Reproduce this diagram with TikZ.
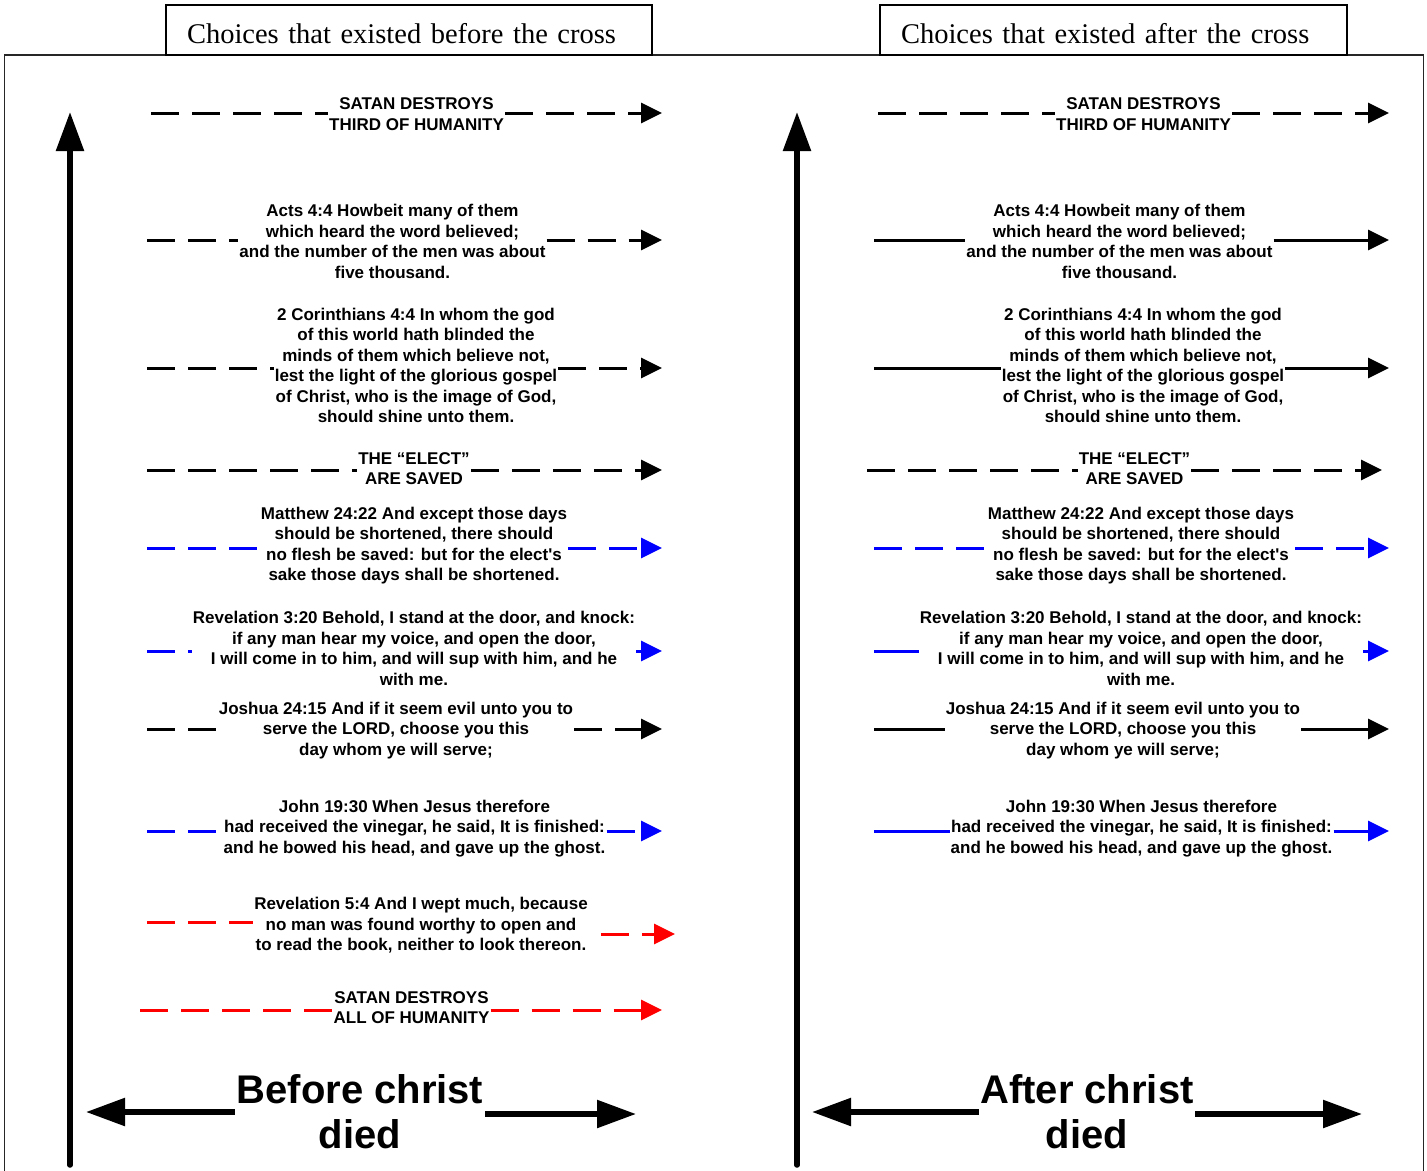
\documentclass[tikz,border=0pt]{standalone}
\usepackage{fontspec}
\setmainfont{Liberation Sans}[Ligatures=TeXOff]
\newfontfamily\titlefont{Liberation Serif}
\usetikzlibrary{arrows.meta}
\begin{document}
\begin{tikzpicture}[x=1pt,y=-1pt,
  verse/.style={font=\fontsize{17}{20.5}\selectfont\bfseries, align=center, inner xsep=1pt, inner ysep=0pt},
  titlebox/.style={draw=black, line width=1.5pt, font=\titlefont\fontsize{28.5}{34}\selectfont, align=left, inner xsep=21pt, inner ysep=0pt, minimum height=50pt, text height=26pt, text depth=0pt},
  ln/.style={line width=3pt},
  dsh/.style={line width=3pt, dash pattern=on 28pt off 13pt},
  arrowtip/.style={-{Triangle[length=21pt,width=20pt]}},
  bigarrow/.style={line width=5.5pt, -{Triangle[length=39pt,width=27pt]}},
  biglabel/.style={font=\fontsize{40}{45}\selectfont\bfseries, align=center, inner xsep=1.5pt, inner ysep=0pt},
]
\useasboundingbox (0,0) rectangle (1427,1170);
% outer frame
\draw[line width=1.8pt, black!85] (4.5,1180) -- (4.5,55) -- (1423.5,55) -- (1423.5,1180);
% titles
\node[titlebox, text width=444pt] (tl) at (409,30) {Choices that existed before the cross};
\node[titlebox, text width=425pt] (tr) at (1113.5,30) {Choices that existed after the cross};

% vertical time arrows
\coordinate (lvb) at (70,1165); \coordinate (lvt) at (70,112);
\draw[bigarrow, line cap=round] (lvb) -- (lvt);
\coordinate (rvb) at (797,1165); \coordinate (rvt) at (797,112);
\draw[bigarrow, line cap=round] (rvb) -- (rvt);

% ---------------- left panel ----------------
\coordinate (ls1) at (151,113); \coordinate (le1) at (662,113);
\node[verse] (lt1) at (416.5,114) {SATAN DESTROYS\\THIRD OF HUMANITY};
\draw[dsh] (ls1) -- (ls1 -| lt1.west);
\draw[dsh, arrowtip] (lt1.east |- le1) -- (le1);

\coordinate (ls2) at (147,240); \coordinate (le2) at (662,240);
\node[verse] (lt2) at (392.5,241.5) {Acts 4:4 Howbeit many of them\\which heard the word believed;\\and the number of the men was about\\five thousand.};
\draw[dsh] (ls2) -- (ls2 -| lt2.west);
\draw[dsh, arrowtip] (lt2.east |- le2) -- (le2);

\coordinate (ls3) at (147,368); \coordinate (le3) at (662,368);
\node[verse] (lt3) at (416,365.5) {2 Corinthians 4:4 In whom the god\\of this world hath blinded the\\minds of them which believe not,\\lest the light of the glorious gospel\\of Christ, who is the image of God,\\should shine unto them.};
\draw[dsh] (ls3) -- (ls3 -| lt3.west);
\draw[dsh, arrowtip] (lt3.east |- le3) -- (le3);

\coordinate (ls4) at (147,470); \coordinate (le4) at (662,470);
\node[verse] (lt4) at (414,468.5) {THE “ELECT”\\ARE SAVED};
\draw[dsh] (ls4) -- (ls4 -| lt4.west);
\draw[dsh, arrowtip] (lt4.east |- le4) -- (le4);

\coordinate (ls5) at (147,548); \coordinate (le5) at (662,548);
\node[verse] (lt5) at (414,545.5) {Matthew 24:22 And except those days\\should be shortened, there should\\no flesh be saved: but for the elect's\\sake those days shall be shortened.};
\draw[dsh, blue] (ls5) -- (ls5 -| lt5.west);
\draw[dsh, blue, arrowtip] (lt5.east |- le5) -- (le5);

\coordinate (ls6) at (147,651); \coordinate (le6) at (662,651);
\node[verse] (lt6) at (414,648.5) {Revelation 3:20 Behold, I stand at the door, and knock:\\if any man hear my voice, and open the door,\\I will come in to him, and will sup with him, and he\\with me.};
\draw[dsh, blue] (ls6) -- (ls6 -| lt6.west);
\draw[dsh, blue, arrowtip] (lt6.east |- le6) -- (le6);

\coordinate (ls7) at (147,729); \coordinate (le7) at (662,729);
\node[verse] (lt7) at (396,730.5) {Joshua 24:15 And if it seem evil unto you to\\serve the LORD, choose you this\\day whom ye will serve;};
\draw[dsh] (ls7) -- (ls7 -| lt7.west);
\draw[dsh, arrowtip] (lt7.east |- le7) -- (le7);

\coordinate (ls8) at (147,831); \coordinate (le8) at (662,831);
\node[verse] (lt8) at (414.5,828.5) {John 19:30 When Jesus therefore\\had received the vinegar, he said, It is finished:\\and he bowed his head, and gave up the ghost.};
\draw[dsh, blue] (ls8) -- (ls8 -| lt8.west);
\draw[dsh, blue, arrowtip] (lt8.east |- le8) -- (le8);

\coordinate (ls9) at (147,922); \coordinate (le9) at (675,934);
\node[verse] (lt9) at (421,925.5) {Revelation 5:4 And I wept much, because\\no man was found worthy to open and\\to read the book, neither to look thereon.};
\draw[dsh, red] (ls9) -- (ls9 -| lt9.west);
\draw[dsh, red, arrowtip] ([xshift=12pt]lt9.east |- le9) -- (le9);

\coordinate (ls10) at (140,1010); \coordinate (le10) at (662,1010);
\node[verse] (lt10) at (411.5,1007.5) {SATAN DESTROYS\\ALL OF HUMANITY};
\draw[dsh, red] (ls10) -- (ls10 -| lt10.west);
\draw[dsh, red, arrowtip] (lt10.east |- le10) -- (le10);

% ---------------- right panel ----------------
\coordinate (rs1) at (878,113); \coordinate (re1) at (1389,113);
\node[verse] (rt1) at (1143.5,114) {SATAN DESTROYS\\THIRD OF HUMANITY};
\draw[dsh] (rs1) -- (rs1 -| rt1.west);
\draw[dsh, arrowtip] (rt1.east |- re1) -- (re1);

\coordinate (rs2) at (874,240); \coordinate (re2) at (1389,240);
\node[verse] (rt2) at (1119.5,241.5) {Acts 4:4 Howbeit many of them\\which heard the word believed;\\and the number of the men was about\\five thousand.};
\draw[ln] (rs2) -- (rs2 -| rt2.west);
\draw[ln, arrowtip] (rt2.east |- re2) -- (re2);

\coordinate (rs3) at (874,368); \coordinate (re3) at (1389,368);
\node[verse] (rt3) at (1143,365.5) {2 Corinthians 4:4 In whom the god\\of this world hath blinded the\\minds of them which believe not,\\lest the light of the glorious gospel\\of Christ, who is the image of God,\\should shine unto them.};
\draw[ln] (rs3) -- (rs3 -| rt3.west);
\draw[ln, arrowtip] (rt3.east |- re3) -- (re3);

\coordinate (rs4) at (867,470); \coordinate (re4) at (1382,470);
\node[verse] (rt4) at (1134.5,468.5) {THE “ELECT”\\ARE SAVED};
\draw[dsh] (rs4) -- (rs4 -| rt4.west);
\draw[dsh, arrowtip] (rt4.east |- re4) -- (re4);

\coordinate (rs5) at (874,548); \coordinate (re5) at (1389,548);
\node[verse] (rt5) at (1141,545.5) {Matthew 24:22 And except those days\\should be shortened, there should\\no flesh be saved: but for the elect's\\sake those days shall be shortened.};
\draw[dsh, blue] (rs5) -- (rs5 -| rt5.west);
\draw[dsh, blue, arrowtip] (rt5.east |- re5) -- (re5);

\coordinate (rs6) at (874,651); \coordinate (re6) at (1389,651);
\node[verse] (rt6) at (1141,648.5) {Revelation 3:20 Behold, I stand at the door, and knock:\\if any man hear my voice, and open the door,\\I will come in to him, and will sup with him, and he\\with me.};
\draw[ln, blue] (rs6) -- (rs6 -| rt6.west);
\draw[ln, blue, arrowtip] (rt6.east |- re6) -- (re6);

\coordinate (rs7) at (874,729); \coordinate (re7) at (1389,729);
\node[verse] (rt7) at (1123,730.5) {Joshua 24:15 And if it seem evil unto you to\\serve the LORD, choose you this\\day whom ye will serve;};
\draw[ln] (rs7) -- (rs7 -| rt7.west);
\draw[ln, arrowtip] (rt7.east |- re7) -- (re7);

\coordinate (rs8) at (874,831); \coordinate (re8) at (1389,831);
\node[verse] (rt8) at (1141.5,828.5) {John 19:30 When Jesus therefore\\had received the vinegar, he said, It is finished:\\and he bowed his head, and gave up the ghost.};
\draw[ln, blue] (rs8) -- (rs8 -| rt8.west);
\draw[ln, blue, arrowtip] (rt8.east |- re8) -- (re8);

% ---------------- bottom labels ----------------
\node[biglabel] (lb) at (360,1112) {Before christ\\died};
\coordinate (lbl) at (86,1112); \coordinate (lbr) at (636,1114);
\draw[bigarrow] (lb.west |- lbl) -- (lbl);
\draw[bigarrow] (lb.east |- lbr) -- (lbr);

\node[biglabel] (rb) at (1087,1112) {After christ\\died};
\coordinate (rbl) at (812,1112); \coordinate (rbr) at (1362,1114);
\draw[bigarrow] (rb.west |- rbl) -- (rbl);
\draw[bigarrow] (rb.east |- rbr) -- (rbr);
\end{tikzpicture}
\end{document}
